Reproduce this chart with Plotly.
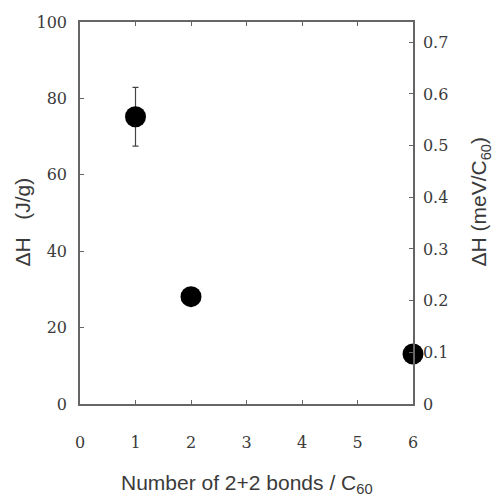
import plotly.graph_objects as go

x_bonds = [1, 2, 6]
dh_jg = [75.2, 28.1, 13.1]
err_jg = [7.7, 0, 0]
y_ticks_left = [0, 20, 40, 60, 80, 100]
y_ticks_right = [0, 0.1, 0.2, 0.3, 0.4, 0.5, 0.6, 0.7]
y_ticks_right_text = ["0", "0.1", "0.2", "0.3", "0.4", "0.5", "0.6", "0.7"]
x_ticks = [0, 1, 2, 3, 4, 5, 6]

axcol = "#666666"
txtcol = "#3a3a3a"
tickfont = dict(family="DejaVu Serif", size=16, color=txtcol)
titlefont = dict(family="Liberation Sans", size=21, color=txtcol)

fig = go.Figure()
fig.add_trace(go.Scatter(
    x=x_bonds, y=dh_jg, mode="markers",
    marker=dict(size=21, color="black"),
    error_y=dict(type="data", array=err_jg, visible=True, color="#444444", thickness=1.2, width=3),
    cliponaxis=False, showlegend=False,
))
fig.add_trace(go.Scatter(x=[0], y=[0], yaxis="y2", mode="markers",
                         marker=dict(opacity=0), showlegend=False, hoverinfo="skip"))

common = dict(ticks="inside", ticklen=4, tickcolor=axcol, tickwidth=1.2,
              showline=True, linecolor=axcol, linewidth=1.5, showgrid=False,
              zeroline=False, tickfont=tickfont, automargin=False)

fig.update_layout(
    template="none",
    width=492, height=495,
    margin=dict(l=72, r=87, t=14, b=99),
    plot_bgcolor="white", paper_bgcolor="white",
    xaxis=dict(range=[0, 6], tickvals=x_ticks, mirror="ticks", ticklabelstandoff=23, **common),
    yaxis=dict(range=[0, 100], tickvals=y_ticks_left, ticklabelstandoff=8, **common),
    yaxis2=dict(range=[0, 0.7393], tickvals=y_ticks_right, ticktext=y_ticks_right_text,
                overlaying="y", side="right", ticklabelstandoff=5, **common),
    annotations=[
        dict(text="Number of 2+2 bonds / C<sub>60</sub>", xref="paper", yref="paper",
             x=0.5, y=0, yshift=-80, xanchor="center", yanchor="middle",
             showarrow=False, font=titlefont),
        dict(text="ΔH\u00a0\u00a0\u00a0(J/g)", xref="paper", yref="paper",
             x=0, xshift=-57, y=0.475, xanchor="center", yanchor="middle", textangle=-90,
             showarrow=False, font=titlefont),
        dict(text="ΔH (meV/C<sub>60</sub>)", xref="paper", yref="paper",
             x=1, xshift=67, y=0.53, xanchor="center", yanchor="middle", textangle=-90,
             showarrow=False, font=titlefont),
    ],
)
fig.write_html("out.html")
